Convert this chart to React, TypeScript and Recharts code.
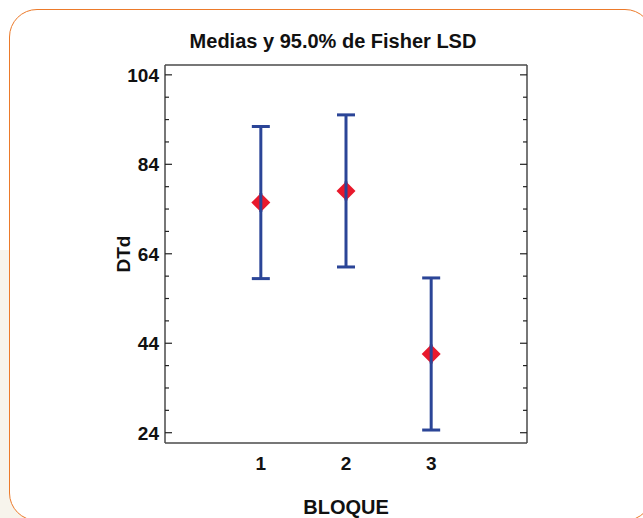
import { ComposedChart, Scatter, XAxis, YAxis, ErrorBar, Label } from 'recharts'

const bloques = [1, 2, 3]
const medias = [75.45, 78.05, 41.6]
const limiteInferior = [58.45, 61.05, 24.6]
const limiteSuperior = [92.45, 95.05, 58.6]
const ticksMayores = [24, 44, 64, 84, 104]
const ticksY = [24, 29, 34, 39, 44, 49, 54, 59, 64, 69, 74, 79, 84, 89, 94, 99, 104]
const ticksX = [1, 2, 3]

const FONT = '"Liberation Sans", Arial, sans-serif'
const AZUL = '#2B4597'
const ROJO = '#E8192C'
const EJE = '#4a4a4a'

const datos = bloques.map((b, i) => ({
  x: b,
  y: medias[i],
  err: [medias[i] - limiteInferior[i], limiteSuperior[i] - medias[i]],
}))

function TickIzq({ x, y, payload }: any) {
  const mayor = ticksMayores.includes(payload.value)
  return (
    <g>
      <line x1={x} x2={x + (mayor ? 7 : 4)} y1={y} y2={y} stroke="#222" strokeWidth={1.2} />
      {mayor && (
        <text x={x - 6} y={y} dy="0.36em" textAnchor="end" fontFamily={FONT} fontWeight="bold" fontSize={19} fill="#111">
          {payload.value}
        </text>
      )}
    </g>
  )
}

function TickDer({ x, y, payload }: any) {
  const mayor = ticksMayores.includes(payload.value)
  return <line x1={x - (mayor ? 7 : 4)} x2={x} y1={y} y2={y} stroke="#222" strokeWidth={1.2} />
}

// diamante rojo con la barra azul pasando por encima, como en el original
function Diamante({ cx, cy }: any) {
  const r = 9.5
  return (
    <g>
      <polygon points={`${cx},${cy - r} ${cx + r},${cy} ${cx},${cy + r} ${cx - r},${cy}`} fill={ROJO} />
      <line x1={cx} x2={cx} y1={cy - r} y2={cy + r} stroke={AZUL} strokeWidth={3} />
    </g>
  )
}

const Nada = () => <g />

export default function App() {
  return (
    <div style={{ position: 'absolute', left: 0, top: 0, width: 643, height: 518, overflow: 'hidden', background: '#fff' }}>
      <div style={{ position: 'absolute', left: 0, top: 250, width: 60, height: 268, background: '#F7F4EC' }} />
      <div
        style={{
          position: 'absolute',
          left: 9,
          top: 9,
          width: 644,
          height: 512,
          border: '1.5px solid #EC7A2A',
          borderRadius: 28,
          background: '#fff',
          boxSizing: 'border-box',
        }}
      />
      <div
        style={{
          position: 'absolute',
          left: 133,
          top: 31,
          width: 400,
          textAlign: 'center',
          fontFamily: FONT,
          fontWeight: 'bold',
          fontSize: 20,
          lineHeight: '20px',
          color: '#111',
        }}
      >
        Medias y 95.0% de Fisher LSD
      </div>
      <div style={{ position: 'absolute', left: 0, top: 0 }}>
        <ComposedChart width={643} height={518} margin={{ top: 55, right: 106, bottom: 0, left: 105 }}>
          <XAxis
            xAxisId="abajo"
            dataKey="x"
            type="number"
            domain={[-0.125, 4.125]}
            ticks={ticksX}
            allowDataOverflow
            height={75}
            tickLine={false}
            tickSize={0}
            tickMargin={14}
            axisLine={{ stroke: EJE, strokeWidth: 1.5 }}
            tick={{ fontFamily: FONT, fontWeight: 'bold', fontSize: 19, fill: '#111' }}
          >
            <Label value="BLOQUE" position="insideBottom" offset={4} fontFamily={FONT} fontWeight="bold" fontSize={20} fill="#111" />
          </XAxis>
          <XAxis
            xAxisId="arriba"
            orientation="top"
            type="number"
            domain={[-0.125, 4.125]}
            allowDataOverflow
            height={10}
            tick={false}
            tickLine={false}
            axisLine={{ stroke: EJE, strokeWidth: 1.5 }}
          />
          <YAxis
            yAxisId="izq"
            dataKey="y"
            type="number"
            domain={[21.7, 106.2]}
            ticks={ticksY}
            interval={0}
            allowDataOverflow
            width={60}
            tickLine={false}
            tickSize={0}
            tickMargin={0}
            tick={<TickIzq />}
            axisLine={{ stroke: EJE, strokeWidth: 1.5 }}
          >
            <Label
              value="DTd"
              angle={-90}
              position="insideLeft"
              offset={18}
              fontFamily={FONT}
              fontWeight="bold"
              fontSize={19}
              fill="#111"
              style={{ textAnchor: 'middle' }}
            />
          </YAxis>
          <YAxis
            yAxisId="der"
            orientation="right"
            type="number"
            domain={[21.7, 106.2]}
            ticks={ticksY}
            interval={0}
            allowDataOverflow
            width={10}
            tickLine={false}
            tickSize={0}
            tickMargin={0}
            tick={<TickDer />}
            axisLine={{ stroke: EJE, strokeWidth: 1.5 }}
          />
          <Scatter
            data={datos}
            xAxisId="abajo"
            yAxisId="izq"
            dataKey="y"
            shape={<Nada />}
            isAnimationActive={false}
          >
            <ErrorBar dataKey="err" direction="y" width={9} stroke={AZUL} strokeWidth={3} isAnimationActive={false} />
          </Scatter>
          <Scatter
            data={datos}
            xAxisId="abajo"
            yAxisId="izq"
            dataKey="y"
            shape={<Diamante />}
            isAnimationActive={false}
          />
        </ComposedChart>
      </div>
    </div>
  )
}
